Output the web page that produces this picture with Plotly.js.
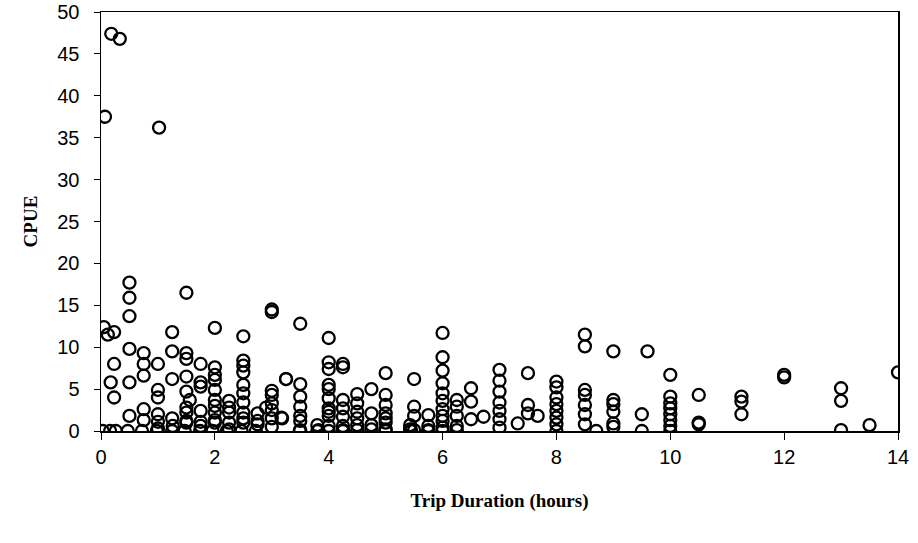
<!DOCTYPE html>
<html>
<head>
<meta charset="utf-8">
<script src="https://cdn.plot.ly/plotly-3.0.1.min.js"></script>
<style>html,body{margin:0;padding:0;background:#fff;}#chart{width:918px;height:543px;}</style>
</head>
<body>
<div id="chart"></div>
<script>
// Trip duration (hours) and CPUE values
const tripHours = [
  0.18,0.33,0.07,1.02,
  0.5,0.5,0.5,0.05,0.23,0.12,
  1.5,3.0,3.0,2.0,1.25,2.5,
  0.5,0.75,1.25,1.5,1.5,0.75,0.23,1.0,1.75,2.0,2.5,2.5,2.5,0.75,1.25,1.5,0.17,0.5,1.75,1.75,2.0,2.0,2.0,1.5,3.25,3.0,3.0,1.0,1.0,0.23,
  2.5,2.5,2.5,2.5,2.0,2.0,2.0,2.25,2.25,2.25,1.56,1.75,1.5,1.5,0.75,0.5,0.75,1.0,1.0,1.25,2.75,2.9,3.0,3.0,3.0,3.18,
  0.03,0.16,0.26,0.47,0.72,0.98,1.25,1.47,1.74,1.96,2.21,2.47,2.72,
  1.26,1.5,1.75,2.0,2.25,2.5,3.0,2.75,1.0,1.5,1.75,2.0,2.25,2.5,2.75,
  3.5,4.0,6.0,4.0,4.0,4.25,4.25,3.25,3.5,3.5,3.5,3.5,3.5,3.5,3.17,3.8,3.8,
  4.0,4.0,4.0,4.0,4.0,4.0,4.0,4.25,4.25,4.25,4.25,4.25,4.5,4.5,4.5,4.5,4.5,4.75,4.75,4.75,
  5.0,5.0,5.0,5.0,5.0,5.0,5.0,5.5,5.5,5.5,5.43,5.43,5.75,5.75,5.75,
  6.0,6.0,6.0,6.0,6.0,6.0,6.0,6.0,6.0,6.25,6.25,6.25,6.25,6.5,6.5,6.5,6.72,
  7.0,7.0,7.0,7.0,7.0,7.0,7.0,7.5,7.5,7.5,7.67,7.32,
  8.0,8.0,8.0,8.0,8.0,8.0,8.0,8.0,
  8.5,8.5,9.0,9.6,8.5,8.5,8.5,8.5,8.5,8.7,9.0,9.0,9.0,9.0,9.0,9.5,9.5,
  10.0,10.0,10.0,10.0,10.0,10.0,10.0,10.0,10.5,10.5,10.5,11.25,11.25,11.25,12.0,12.0,13.0,13.0,13.0,13.5,14.0,
  3.49,3.82,4.0,4.25,4.5,4.75,5.0,5.45,5.5,5.75,6.0,6.25
];
const cpue = [
  47.4,46.8,37.5,36.2,
  17.7,15.9,13.7,12.4,11.8,11.5,
  16.5,14.5,14.2,12.3,11.8,11.3,
  9.8,9.3,9.5,9.3,8.6,8.0,8.0,8.0,8.0,7.6,8.4,7.8,7.0,6.6,6.2,6.5,5.8,5.8,5.8,5.3,6.7,6.1,4.9,4.7,6.2,4.8,4.3,4.9,4.0,4.0,
  5.5,4.5,3.4,2.2,3.7,3.0,2.2,3.6,2.8,2.2,3.7,2.4,2.8,2.2,2.6,1.8,1.3,2.0,1.1,1.5,2.1,2.8,3.3,2.5,1.5,1.5,
  0.0,0.0,0.0,0.0,0.0,0.0,0.0,0.0,0.0,0.0,0.0,0.0,0.0,
  0.6,1.0,0.6,1.0,0.2,1.0,0.5,0.8,0.3,1.2,1.1,1.3,1.0,1.5,1.2,
  12.8,11.1,11.7,8.2,7.4,8.0,7.6,6.2,5.6,4.1,2.9,1.8,0.1,1.2,1.6,0.7,0.0,
  5.5,5.0,3.9,2.7,1.8,0.6,2.3,3.7,2.7,1.7,0.6,0.0,4.4,3.3,2.3,0.7,1.5,5.0,2.1,0.7,
  6.9,4.3,3.1,2.1,1.5,0.2,1.0,6.2,2.9,1.8,0.7,0.2,1.9,0.6,0.1,
  8.8,7.2,5.7,4.5,3.6,2.6,1.8,0.4,1.2,3.7,2.9,1.8,0.6,5.1,3.5,1.4,1.7,
  7.3,6.0,4.7,3.4,2.4,1.4,0.4,6.9,3.1,2.1,1.8,0.9,
  5.9,5.2,4.0,3.2,2.4,1.6,0.8,0.0,
  11.5,10.1,9.5,9.5,4.9,4.3,3.1,2.0,0.8,0.0,3.7,3.2,2.3,0.9,0.5,2.0,0.0,
  6.7,4.1,3.3,2.7,1.3,0.6,0.0,2.0,4.3,1.0,0.8,4.1,3.5,2.0,6.7,6.4,5.1,3.6,0.1,0.7,7.0,
  0.0,0.1,0.0,0.1,0.1,0.2,0.0,0.0,0.1,0.0,0.0,0.1
];
const xTickVals = [0,2,4,6,8,10,12,14];
const yTickVals = [0,5,10,15,20,25,30,35,40,45,50];

const trace = {
  type: 'scatter',
  mode: 'markers',
  x: tripHours,
  y: cpue,
  marker: {symbol: 'circle-open', size: 12, color: '#000', line: {width: 2.3, color: '#000'}},
  hoverinfo: 'x+y',
  showlegend: false
};

const layout = {
  width: 918, height: 543,
  margin: {l: 101, r: 20, t: 12, b: 112},
  paper_bgcolor: '#fff', plot_bgcolor: '#fff',
  xaxis: {
    range: [0, 14], tickvals: xTickVals, ticktext: xTickVals.map(String),
    showgrid: false, zeroline: false,
    showline: true, linecolor: '#000', linewidth: 1.5, mirror: true,
    ticks: 'outside', ticklen: 7, tickcolor: '#000', tickwidth: 1,
    tickfont: {family: 'Liberation Sans, Arial, sans-serif', size: 20, color: '#000'},
    title: {text: 'Trip Duration (hours)', standoff: 27,
      font: {family: 'Liberation Serif, Times New Roman, serif', size: 19, color: '#000', weight: 'bold'}}
  },
  yaxis: {
    range: [0, 50], tickvals: yTickVals, ticktext: yTickVals.map(String),
    showgrid: false, zeroline: false,
    showline: true, linecolor: '#000', linewidth: 1.5, mirror: true,
    ticks: 'outside', ticklen: 6, tickcolor: '#000', tickwidth: 1,
    ticklabelstandoff: 10,
    tickfont: {family: 'Liberation Sans, Arial, sans-serif', size: 20, color: '#000'},
    title: {text: 'CPUE', standoff: 14,
      font: {family: 'Liberation Serif, Times New Roman, serif', size: 19, color: '#000', weight: 'bold'}}
  }
};

Plotly.newPlot('chart', [trace], layout, {displayModeBar: false, staticPlot: true});
</script>
</body>
</html>
